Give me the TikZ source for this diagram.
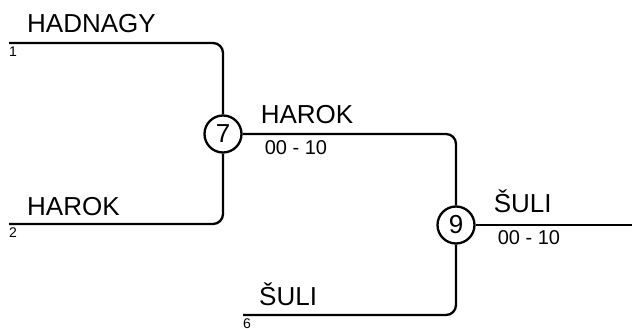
\documentclass[tikz,border=0pt]{standalone}
\usepackage{fontspec}
\setmainfont{Liberation Sans}
\usetikzlibrary{positioning, calc}

\tikzset{
  bline/.style={line width=2.3pt, rounded corners=10pt},
  game/.style={circle, draw, line width=2.3pt, minimum size=37pt, inner sep=0pt, font=\fontsize{26}{30}\selectfont},
  team/.style={anchor=base west, inner sep=0pt, font=\fontsize{26}{30}\selectfont},
  seedno/.style={anchor=north west, inner sep=0pt, font=\fontsize{14}{16}\selectfont},
  score/.style={anchor=north west, inner sep=0pt, font=\fontsize{20}{23}\selectfont}
}

\begin{document}
\begin{tikzpicture}[x=1pt, y=-1pt]
        \useasboundingbox (0,0) rectangle (632,329);

        % --- GAMES ---
        \node[game] (m7) at (223,134) {7};
        \node[game] (m9) at (456,225) {9};

        % --- START LINES ---
        \coordinate (s1) at (9,43);
        \coordinate (s2) at (9,224);
        \coordinate (s6) at (243,315);
        \coordinate (fin) at (632,225);

        % --- BRACKET LINES ---
        \draw[bline] (s1) -- (s1 -| m7) -- (m7.north);
        \draw[bline] (s2) -- (s2 -| m7) -- (m7.south);
        \draw[bline] (m7.east) -- (m7.east -| m9) -- (m9.north);
        \draw[bline] (s6) -- (s6 -| m9) -- (m9.south);
        \draw[bline] (m9.east) -- (fin);

        % --- TEAMS ---
        \node[team] (t1) at ($(s1)+(18,-10)$) {HADNAGY};
        \node[team] (t2) at ($(s2)+(18,-9)$) {HAROK};
        \node[team] (t6) at ($(s6)+(16,-10)$) {ŠULI};
        \node[team] (w7) at ($(m7.east)+(18,-11)$) {HAROK};
        \node[team] (w9) at ($(m9.east)+(18,-13)$) {ŠULI};

        % --- SEEDS ---
        \node[seedno] (n1) at ($(s1)+(0,3.5)$) {1};
        \node[seedno] (n2) at ($(s2)+(0,3.5)$) {2};
        \node[seedno] (n6) at ($(s6)+(0,3.5)$) {6};

        % --- SCORES ---
        \node[score] (r7) at ($(m7.east)+(22,6)$) {00 - 10};
        \node[score] (r9) at ($(m9.east)+(22,5)$) {00 - 10};

    \end{tikzpicture}
\end{document}
